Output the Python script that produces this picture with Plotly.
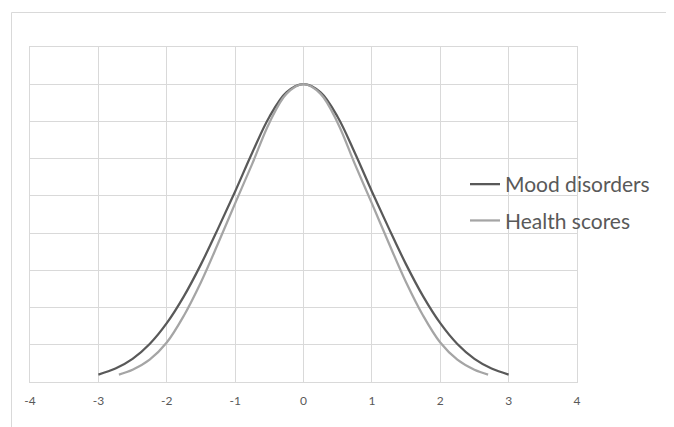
import plotly.graph_objects as go

# Data
mood_x = [-3.0, -2.75, -2.5, -2.25, -2.0, -1.75, -1.5, -1.25, -1.0, -0.75, -0.5, -0.25,
          0.0, 0.25, 0.5, 0.75, 1.0, 1.25, 1.5, 1.75, 2.0, 2.25, 2.5, 2.75, 3.0]
mood_y = [0.010, 0.018, 0.031, 0.051, 0.079, 0.115, 0.158, 0.206, 0.256, 0.308, 0.356, 0.389,
          0.400, 0.389, 0.356, 0.308, 0.256, 0.206, 0.158, 0.115, 0.079, 0.051, 0.031, 0.018, 0.010]

health_x = [-2.7, -2.5, -2.25, -2.0, -1.75, -1.5, -1.25, -1.0, -0.75, -0.5, -0.25,
            0.0, 0.25, 0.5, 0.75, 1.0, 1.25, 1.5, 1.75, 2.0, 2.25, 2.5, 2.7]
health_y = [0.010, 0.0165, 0.030, 0.053, 0.089, 0.134, 0.186, 0.240, 0.293, 0.348, 0.387,
            0.400, 0.387, 0.348, 0.293, 0.240, 0.186, 0.134, 0.089, 0.053, 0.030, 0.0165, 0.010]

x_ticks = [-4, -3, -2, -1, 0, 1, 2, 3, 4]

# page body has an 8px margin; compensate
OFF = 8
W, H = 674 - OFF, 427 - OFF
L, R, T, B = 30 - OFF, 97, 47 - OFF, 45
pw = W - L - R
ph = H - T - B

fig = go.Figure()
fig.add_trace(go.Scatter(x=mood_x, y=mood_y, mode="lines", name="Mood disorders",
                         line=dict(color="#595959", width=2.25, shape="spline"),
                         legendgroup="a"))
fig.add_trace(go.Scatter(x=health_x, y=health_y, mode="lines", name="Health scores",
                         line=dict(color="#a5a5a5", width=2.25, shape="spline"),
                         legendgroup="b"))

grid = "#d9d9d9"
fig.update_layout(
    width=W, height=H,
    margin=dict(l=L, r=R, t=T, b=B),
    paper_bgcolor="white", plot_bgcolor="white",
    font=dict(family="Lato, Calibri, sans-serif", color="#595959"),
    showlegend=True,
    legend=dict(x=(465 - OFF - L) / pw, y=1 - (164 - 47) / ph, xanchor="left", yanchor="top",
                font=dict(size=21, color="#595959"), tracegroupgap=6,
                bgcolor="rgba(0,0,0,0)"),
    xaxis=dict(range=[-4, 4], tickvals=x_ticks, ticktext=[str(v) for v in x_ticks],
               showgrid=True, gridcolor=grid, gridwidth=1, zeroline=False,
               showline=True, linecolor=grid, linewidth=1, mirror=True,
               ticks="", tickfont=dict(size=12, color="#595959"), ticklabelstandoff=8),
    yaxis=dict(range=[0, 0.45], dtick=0.05, showticklabels=False,
               showgrid=True, gridcolor=grid, gridwidth=1, zeroline=False,
               showline=True, linecolor=grid, linewidth=1, mirror=True, ticks=""),
    shapes=[dict(type="rect", xref="paper", yref="paper",
                 x0=(11.5 - 30) / pw, x1=(700 - 30) / pw,
                 y0=-(460 - 47 - ph) / ph, y1=1 + (47 - 12.5) / ph,
                 line=dict(color=grid, width=1), fillcolor="rgba(0,0,0,0)", layer="below")],
)

fig.write_html("out.html")
